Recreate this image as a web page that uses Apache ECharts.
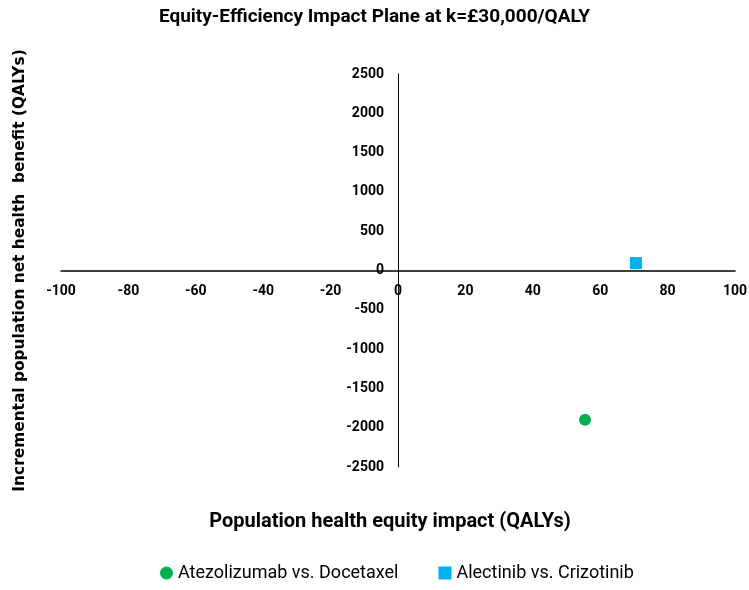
<!DOCTYPE html>
<html>
<head>
<meta charset="utf-8">
<script src="https://cdn.jsdelivr.net/npm/echarts@6/dist/echarts.min.js"></script>
<style>
    html, body { margin: 0; padding: 0; background: #fff; }
    #main { width: 749px; height: 590px; }
</style>
</head>
<body>
<div id="main"></div>
<script>
// 数据
const seriesNames = ['Atezolizumab vs. Docetaxel', 'Alectinib vs. Crizotinib']
const equityImpact = [55.5, 70.6]       // x: population health equity impact
const netHealthBenefit = [-1900, 95]    // y: incremental population net health benefit
const seriesColors = ['#00b050', '#00b0f0']
const seriesSymbols = ['circle', 'rect']

const narrow = 'Roboto, "Open Sans", sans-serif'

var myChart = echarts.init(document.getElementById('main'))

// 坐标轴交叉在 (0,0)：用 offset 把轴线和刻度标签一起移到零点
var gridBox = { left: 61, right: 14, top: 74, bottom: 123 }
var xOffset = -(590 - gridBox.top - gridBox.bottom) / 2
var yOffset = -(749 - gridBox.left - gridBox.right) / 2

var option = {
    title: {
        text: 'Equity-Efficiency Impact Plane at k=£30,000/QALY',
        left: 'center',
        top: 3,
        textStyle: {
            fontFamily: narrow,
            fontWeight: 'bold',
            fontSize: 19,
            color: '#000'
        }
    },
    legend: {
        bottom: 3,
        left: 155,
        itemGap: 40,
        itemWidth: 13,
        itemHeight: 13,
        textStyle: {
            fontFamily: narrow,
            fontSize: 18,
            color: '#000'
        },
        data: seriesNames.map((name, i) => ({ name: name, icon: seriesSymbols[i] }))
    },
    grid: {
        left: gridBox.left,
        right: gridBox.right,
        top: gridBox.top,
        bottom: gridBox.bottom,
        containLabel: false,
        outerBoundsMode: 'none'
    },
    xAxis: {
        type: 'value',
        min: -100,
        max: 100,
        interval: 20,
        offset: xOffset,
        name: 'Population health equity impact (QALYs)',
        nameLocation: 'middle',
        nameGap: 241,
        nameTextStyle: {
            fontFamily: narrow,
            fontWeight: 'bold',
            fontSize: 20,
            color: '#000',
            padding: [0, 16, 0, 0]
        },
        axisLine: { onZero: false, lineStyle: { color: '#000', width: 1.5 } },
        axisTick: { show: false },
        splitLine: { show: false },
        axisLabel: {
            margin: 14,
            fontFamily: narrow,
            fontWeight: 'bold',
            fontSize: 14,
            color: '#000'
        }
    },
    yAxis: {
        type: 'value',
        min: -2500,
        max: 2500,
        interval: 500,
        offset: yOffset,
        name: 'Incremental population net health  benefit (QALYs)',
        nameLocation: 'middle',
        nameGap: 371,
        nameTextStyle: {
            fontFamily: '"DejaVu Sans", sans-serif',
            fontWeight: 'bold',
            fontSize: 15.4,
            color: '#000'
        },
        axisLine: { onZero: false, lineStyle: { color: '#000', width: 1 } },
        axisTick: { show: false },
        splitLine: { show: false },
        axisLabel: {
            margin: 14,
            fontFamily: narrow,
            fontWeight: 'bold',
            fontSize: 14,
            color: '#000',
            formatter: v => String(v)
        }
    },
    series: seriesNames.map((name, i) => ({
        name: name,
        type: 'scatter',
        symbol: seriesSymbols[i],
        symbolSize: 12,
        itemStyle: { color: seriesColors[i], opacity: 1 },
        data: [[equityImpact[i], netHealthBenefit[i]]]
    }))
}

myChart.setOption(option)
</script>
</body>
</html>
